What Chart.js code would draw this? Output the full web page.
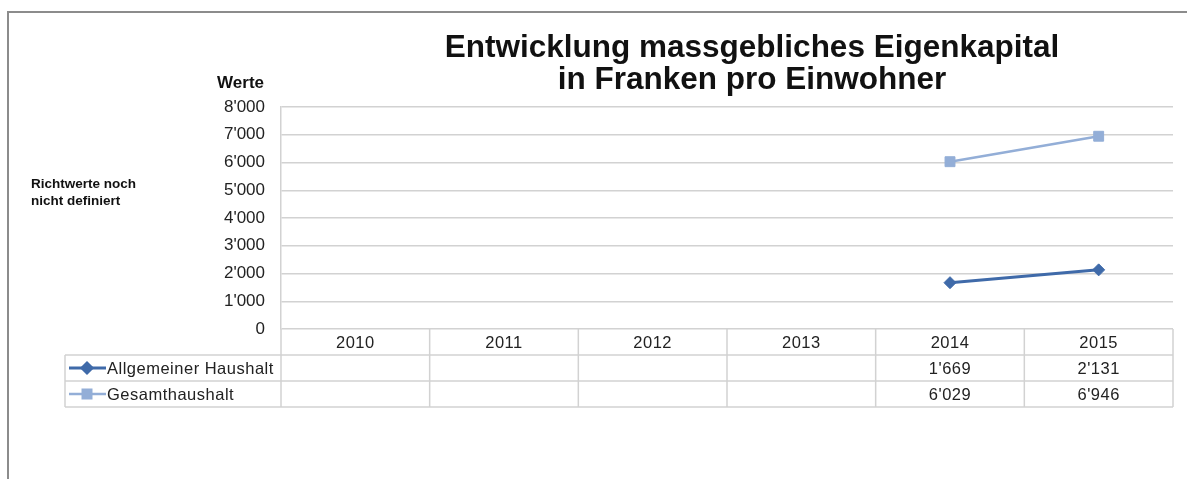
<!DOCTYPE html>
<html lang="de">
<head>
    <meta charset="utf-8">
    <title>Entwicklung massgebliches Eigenkapital</title>
    <style>
        html, body { margin: 0; padding: 0; background: #fff; }
        #wrap { width: 1187px; height: 479px; }
    </style>
</head>
<body>
    <div id="wrap"><canvas id="chart"></canvas></div>

    <script src="https://cdn.jsdelivr.net/npm/chart.js"></script>
    <script>
        const years = ['2010', '2011', '2012', '2013', '2014', '2015'];
        const allgemeinerHaushalt = [null, null, null, null, 1669, 2131];
        const gesamthaushalt = [null, null, null, null, 6029, 6946];
        const seriesNames = ['Allgemeiner Haushalt', 'Gesamthaushalt'];
        const titleLines = ['Entwicklung massgebliches Eigenkapital', 'in Franken pro Einwohner'];
        const yAxisTitle = 'Werte';
        const noteLines = ['Richtwerte noch', 'nicht definiert'];

        const FONT = '"Liberation Sans", Arial, sans-serif';
        const darkBlue = '#3f6aa9';
        const lightBlue = '#93aed7';
        const gridGrey = '#d2d2d2';

        function swissNumber(v) {
            return String(v).replace(/\B(?=(\d{3})+(?!\d))/g, "'");
        }

        // frame, titles and the data table under the plot
        const decorations = {
            id: 'decorations',
            beforeDraw(chart) {
                const ctx = chart.ctx;
                ctx.save();
                ctx.strokeStyle = '#8c8c8c';
                ctx.lineWidth = 2;
                ctx.beginPath();
                ctx.moveTo(8, 479);
                ctx.lineTo(8, 12);
                ctx.lineTo(1187, 12);
                ctx.stroke();
                ctx.restore();
            },
            afterDraw(chart) {
                const ctx = chart.ctx;
                const area = chart.chartArea;
                const x = chart.scales.x;
                ctx.save();

                ctx.fillStyle = '#111';
                ctx.textAlign = 'center';
                ctx.textBaseline = 'alphabetic';
                ctx.font = 'bold 31.5px ' + FONT;
                ctx.fillText(titleLines[0], 752, 57);
                ctx.fillText(titleLines[1], 752, 89);

                ctx.font = 'bold 17px ' + FONT;
                ctx.textAlign = 'right';
                ctx.fillText(yAxisTitle, 264, 88);

                ctx.font = 'bold 13.5px ' + FONT;
                ctx.textAlign = 'left';
                ctx.fillText(noteLines[0], 31, 188);
                ctx.fillText(noteLines[1], 31, 205);

                // table
                const rowH = 26;
                const top = area.bottom;
                const tableLeft = 65;
                const bounds = [area.left];
                for (let i = 0; i < years.length - 1; i++) {
                    bounds.push((x.getPixelForValue(i) + x.getPixelForValue(i + 1)) / 2);
                }
                bounds.push(area.right);

                ctx.strokeStyle = gridGrey;
                ctx.lineWidth = 1.5;
                ctx.beginPath();
                for (let r = 1; r <= 3; r++) {
                    ctx.moveTo(tableLeft, top + r * rowH);
                    ctx.lineTo(area.right, top + r * rowH);
                }
                ctx.moveTo(tableLeft, top + rowH);
                ctx.lineTo(tableLeft, top + 3 * rowH);
                bounds.forEach(b => {
                    ctx.moveTo(b, top);
                    ctx.lineTo(b, top + 3 * rowH);
                });
                ctx.stroke();

                ctx.fillStyle = '#222';
                ctx.font = '16.5px ' + FONT;
                ctx.letterSpacing = '0.5px';
                ctx.textAlign = 'center';
                ctx.textBaseline = 'middle';
                years.forEach((y, i) => {
                    const cx = x.getPixelForValue(i);
                    ctx.fillText(y, cx, top + rowH / 2 + 1);
                    if (allgemeinerHaushalt[i] !== null) {
                        ctx.fillText(swissNumber(allgemeinerHaushalt[i]), cx, top + rowH * 1.5 + 1);
                    }
                    if (gesamthaushalt[i] !== null) {
                        ctx.fillText(swissNumber(gesamthaushalt[i]), cx, top + rowH * 2.5 + 1);
                    }
                });

                // legend keys inside the table
                const keys = [
                    { color: darkBlue, style: 'rectRot', radius: 5, width: 3 },
                    { color: lightBlue, style: 'rect', radius: 6, width: 2.5 }
                ];
                keys.forEach((k, r) => {
                    const cy = top + rowH * (r + 1.5);
                    ctx.strokeStyle = k.color;
                    ctx.lineWidth = k.width;
                    ctx.beginPath();
                    ctx.moveTo(69, cy);
                    ctx.lineTo(106, cy);
                    ctx.stroke();
                    ctx.fillStyle = k.color;
                    Chart.helpers.drawPoint(ctx, { pointStyle: k.style, radius: k.radius, borderWidth: 1 }, 87, cy);
                    ctx.fillStyle = '#222';
                    ctx.textAlign = 'left';
                    ctx.fillText(seriesNames[r], 107, cy + 1);
                });

                ctx.restore();
            }
        };

        new Chart(document.getElementById('chart'), {
            type: 'line',
            data: {
                labels: years,
                datasets: [
                    {
                        label: seriesNames[0],
                        data: allgemeinerHaushalt,
                        borderColor: darkBlue,
                        backgroundColor: darkBlue,
                        borderWidth: 3,
                        pointStyle: 'rectRot',
                        pointRadius: 6,
                        pointBorderWidth: 1
                    },
                    {
                        label: seriesNames[1],
                        data: gesamthaushalt,
                        borderColor: lightBlue,
                        backgroundColor: lightBlue,
                        borderWidth: 2.5,
                        pointStyle: 'rect',
                        pointRadius: 7,
                        pointBorderWidth: 1
                    }
                ]
            },
            options: {
                responsive: true,
                maintainAspectRatio: false,
                animation: false,
                layout: { padding: { left: 0, top: 107, right: 14, bottom: 150 } },
                plugins: {
                    legend: { display: false },
                    title: { display: false },
                    tooltip: { enabled: false }
                },
                scales: {
                    x: {
                        display: false,
                        offset: true
                    },
                    y: {
                        min: 0,
                        max: 8000,
                        afterFit(scale) { scale.width = 281; },
                        border: { color: gridGrey, width: 1.5 },
                        grid: { color: gridGrey, lineWidth: 1.5, drawTicks: false },
                        ticks: {
                            stepSize: 1000,
                            padding: 16,
                            color: '#222',
                            font: { family: FONT, size: 17 },
                            callback: v => swissNumber(v)
                        }
                    }
                }
            },
            plugins: [decorations]
        });
    </script>
</body>
</html>
